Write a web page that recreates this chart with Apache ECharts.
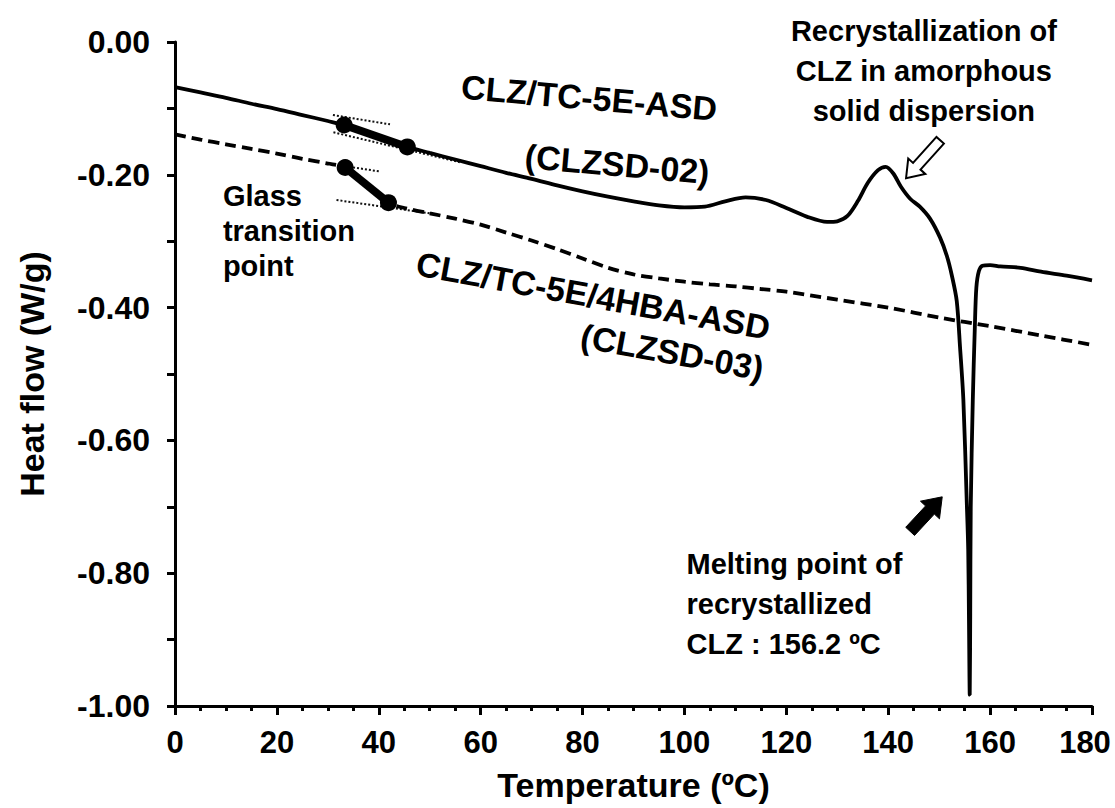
<!DOCTYPE html>
<html><head><meta charset="utf-8">
<script src="https://cdn.jsdelivr.net/npm/echarts@6/dist/echarts.min.js"></script>
<style>html,body{margin:0;padding:0;background:#fff}#c{width:1115px;height:808px}</style>
</head><body><div id="c"></div>
<script>
// ---- data ----
const asd02Temp = [0,5,10,15,20,25,30,33.2,36,40,45.6,50,55,60,65,70,75,80,85,90,95,100,104,108,112,116,120,124,128,130,132,134,136,138,139.5,141,142.5,144.3,146.2,148.2,150.2,151.5,152.5,153.45,154.1,154.75,155.4,155.7,155.85,156.0,156.1,156.2,156.6,157.0,157.3,157.8,158.5,160,162,166,170,175,180];
const asd02Flow = [-0.068,-0.076,-0.084,-0.093,-0.101,-0.110,-0.119,-0.125,-0.133,-0.143,-0.158,-0.167,-0.177,-0.187,-0.197,-0.206,-0.216,-0.225,-0.233,-0.240,-0.246,-0.249,-0.248,-0.240,-0.234,-0.238,-0.250,-0.263,-0.271,-0.270,-0.262,-0.240,-0.212,-0.193,-0.188,-0.198,-0.218,-0.236,-0.248,-0.266,-0.295,-0.322,-0.352,-0.390,-0.460,-0.539,-0.689,-0.764,-0.870,-0.983,-0.860,-0.700,-0.540,-0.430,-0.370,-0.345,-0.337,-0.336,-0.338,-0.340,-0.346,-0.352,-0.359];
const asd03Temp = [0,5,10,15,20,25,30,33.4,37,41.9,45,50,55,60,65,70,75,80,85,90,95,100,105,110,115,120,130,140,150,160,170,180];
const asd03Flow = [-0.139,-0.147,-0.154,-0.161,-0.168,-0.176,-0.183,-0.189,-0.212,-0.242,-0.250,-0.258,-0.266,-0.275,-0.287,-0.299,-0.312,-0.326,-0.340,-0.350,-0.356,-0.361,-0.365,-0.368,-0.372,-0.376,-0.388,-0.400,-0.415,-0.428,-0.442,-0.456];
// glass transition markers (onset / end)
const tg02Temp = [33.2, 45.6];
const tg02Flow = [-0.125, -0.158];
const tg03Temp = [33.4, 41.9];
const tg03Flow = [-0.189, -0.242];
// tangent (baseline) construction lines
const tan02UpperTemp = [31.0, 42.2], tan02UpperFlow = [-0.110, -0.124];
const tan02LowerTemp = [31.1, 55.9], tan02LowerFlow = [-0.136, -0.181];
const tan03UpperTemp = [33.4, 40.2], tan03UpperFlow = [-0.187, -0.195];
const tan03LowerTemp = [31.7, 50.0], tan03LowerFlow = [-0.238, -0.258];

const zip = (a, b) => a.map((v, i) => [v, b[i]]);
const FONT = '"Liberation Sans", Arial, sans-serif';

const chart = echarts.init(document.getElementById('c'), null, {renderer: 'svg'});

const dotted = (t, f) => ({
  type: 'line', data: zip(t, f), symbol: 'none', silent: true, z: 3,
  lineStyle: {color: '#111', width: 2, type: [2, 2]}
});
const tgSeg = (t, f) => ({
  type: 'line', data: zip(t, f), symbol: 'circle', symbolSize: 17, silent: true, z: 5,
  itemStyle: {color: '#000'}, lineStyle: {color: '#000', width: 8}
});

chart.setOption({
  animation: false,
  backgroundColor: '#fff',
  grid: {left: 175, right: 23, top: 42, bottom: 102, containLabel: false, outerBoundsMode: 'none'},
  xAxis: {
    type: 'value', min: 0, max: 180, interval: 20,
    name: 'Temperature (ºC)', nameLocation: 'middle', nameGap: 62,
    nameTextStyle: {fontFamily: FONT, fontWeight: 'bold', fontSize: 34, color: '#000'},
    axisLine: {onZero: false, lineStyle: {color: '#000', width: 3}},
    axisTick: {inside: false, length: 9, lineStyle: {color: '#000', width: 3}},
    minorTick: {show: true, splitNumber: 4, length: 5, lineStyle: {color: '#000', width: 3}},
    axisLabel: {fontFamily: FONT, fontWeight: 'bold', fontSize: 31, color: '#000', margin: 21,
      formatter: v => v === 180 ? '{e|' + v + '}' : String(v),
      rich: {e: {fontFamily: FONT, fontWeight: 'bold', fontSize: 31, color: '#000', padding: [0, 14, 0, 0]}}},
    splitLine: {show: false}
  },
  yAxis: {
    type: 'value', min: -1, max: 0, interval: 0.2,
    name: 'Heat flow (W/g)', nameLocation: 'middle', nameGap: 126, nameRotate: 90,
    nameTextStyle: {fontFamily: FONT, fontWeight: 'bold', fontSize: 34, color: '#000'},
    axisLine: {show: true, onZero: false, lineStyle: {color: '#000', width: 3}},
    axisTick: {show: true, inside: false, length: 8, lineStyle: {color: '#000', width: 3}},
    minorTick: {show: true, splitNumber: 2, length: 8, lineStyle: {color: '#000', width: 3}},
    axisLabel: {fontFamily: FONT, fontWeight: 'bold', fontSize: 32, color: '#000', margin: 25,
      formatter: v => v.toFixed(2)},
    splitLine: {show: false}
  },
  series: [
    {type: 'line', name: 'CLZSD-02', data: zip(asd02Temp, asd02Flow), symbol: 'none', smooth: 0.3,
     lineStyle: {color: '#000', width: 3.8}, z: 4},
    {type: 'line', name: 'CLZSD-03', data: zip(asd03Temp, asd03Flow), symbol: 'none', smooth: 0.3,
     lineStyle: {color: '#000', width: 3.8, type: [11, 6]}, z: 4},
    dotted(tan02UpperTemp, tan02UpperFlow),
    dotted(tan02LowerTemp, tan02LowerFlow),
    dotted(tan03UpperTemp, tan03UpperFlow),
    dotted(tan03LowerTemp, tan03LowerFlow),
    tgSeg(tg02Temp, tg02Flow),
    tgSeg(tg03Temp, tg03Flow)
  ]
});

// ---- annotations, anchored in data coordinates ----
const notes = [
  {text: 'CLZ/TC-5E-ASD', at: [81.3, -0.084], rot: -5, align: 'center', size: 34},
  {text: '(CLZSD-02)', at: [86.8, -0.184], rot: -5, align: 'center', size: 34},
  {text: 'CLZ/TC-5E/4HBA-ASD', at: [82.1, -0.382], rot: -10.4, align: 'center', size: 34},
  {text: '(CLZSD-03)', at: [97.6, -0.467], rot: -10.4, align: 'center', size: 34},
  {text: 'Glass\ntransition\npoint', at: [9.4, -0.285], rot: 0, align: 'left', lh: 35},
  {text: 'Recrystallization of\nCLZ in amorphous\nsolid dispersion', at: [147.0, -0.044], rot: 0, align: 'center', lh: 40},
  {text: 'Melting point of\nrecrystallized\nCLZ : 156.2 ºC', at: [100.4, -0.847], rot: 0, align: 'left', lh: 40}
];
const arrows = [
  {tail: [150.2, -0.148], tip: [143.5, -0.205], hollow: true},
  {tail: [144.3, -0.737], tip: [150.6, -0.685], hollow: false}
];

function arrowPoly(a, b, shaft, head, headLen) {
  const dx = b[0] - a[0], dy = b[1] - a[1], L = Math.hypot(dx, dy);
  const ux = dx / L, uy = dy / L, nx = -uy, ny = ux;
  const bx = b[0] - ux * headLen, by = b[1] - uy * headLen;
  return [
    [a[0] + nx * shaft / 2, a[1] + ny * shaft / 2],
    [bx + nx * shaft / 2, by + ny * shaft / 2],
    [bx + nx * head / 2, by + ny * head / 2],
    [b[0], b[1]],
    [bx - nx * head / 2, by - ny * head / 2],
    [bx - nx * shaft / 2, by - ny * shaft / 2],
    [a[0] - nx * shaft / 2, a[1] - ny * shaft / 2]
  ];
}

const px = p => chart.convertToPixel({gridIndex: 0}, p);
const graphics = [];
notes.forEach(n => {
  const p = px(n.at);
  graphics.push({
    type: 'text', x: p[0], y: p[1], rotation: n.rot * Math.PI / 180, z: 10,
    style: {text: n.text, fontFamily: FONT, fontWeight: 'bold', fontSize: n.size || 29, fill: '#000',
      align: n.align, verticalAlign: 'middle', lineHeight: n.lh || 36}
  });
});
arrows.forEach(a => {
  const pts = arrowPoly(px(a.tail), px(a.tip), a.hollow ? 10 : 12, a.hollow ? 23 : 26, a.hollow ? 16 : 18);
  graphics.push({
    type: 'polygon', z: 10, shape: {points: pts},
    style: a.hollow ? {fill: '#fff', stroke: '#000', lineWidth: 2} : {fill: '#000', stroke: '#000', lineWidth: 1}
  });
});
chart.setOption({graphic: graphics});
</script>
</body></html>
